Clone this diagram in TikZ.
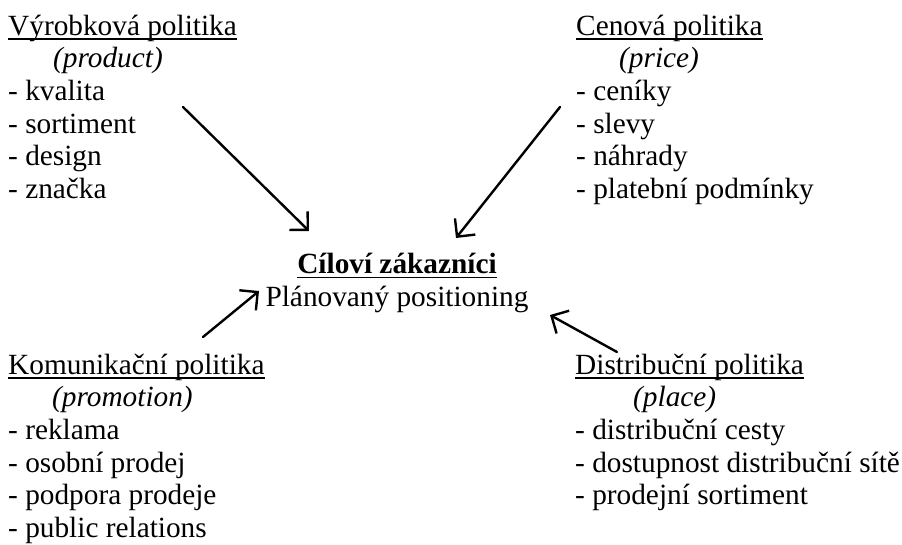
\documentclass[tikz,border=0pt]{standalone}
\usepackage{fontspec}
\setmainfont{Liberation Serif}
\usetikzlibrary{arrows.meta}
\newcommand\ulin[1]{\setbox0\hbox{#1}\rlap{\rule[-5pt]{\wd0}{1.8pt}}\box0}

\begin{document}
\begin{tikzpicture}[line cap=round,line join=round,x=1pt,y=-1pt,
  >={Straight Barb[length=13pt,width=26pt]},
  block/.style={anchor=base west,align=left,inner sep=0pt},
  arr/.style={->,line width=2.4pt}]
\useasboundingbox (0,0) rectangle (902,544);
\fontsize{29.3}{32.7}\selectfont
%\draw[help lines,step=50] (0,0) grid (902,544);
% base = baseline of the last line
\node[block] (prod) at (8,198.5) {\ulin{Výrobková politika}\\
  \hspace{45pt}\textit{(product)}\\
  - kvalita\\ - sortiment\\ - design\\ - značka};
\node[block] (price) at (576,198.5) {\ulin{Cenová politika}\\
  \hspace{43pt}\textit{(price)}\\
  - ceníky\\ - slevy\\ - náhrady\\ - platební podmínky};
\node[anchor=base,align=center,inner sep=0pt] (cil) at (397,306) {\ulin{\textbf{Cíloví zákazníci}}\\
  Plánovaný positioning};
\node[block] (prom) at (8,537.5) {\ulin{Komunikační politika}\\
  \hspace{44pt}\textit{(promotion)}\\
  - reklama\\ - osobní prodej\\ - podpora prodeje\\ - public relations};
\node[block] (place) at (575,504.8) {\ulin{Distribuční politika}\\
  \hspace{58pt}\textit{(place)}\\
  - distribuční cesty\\ - dostupnost distribuční sítě\\ - prodejní sortiment};
% arrows
\coordinate (a1) at (183,107);
\coordinate (b1) at (309,231);
\coordinate (a2) at (560,107);
\coordinate (b2) at (456,238);
\coordinate (a3) at (203,337);
\coordinate (b3) at (259,291);
\coordinate (a4) at (617,352);
\coordinate (b4) at (550,315);
\draw[arr] (a1)--(b1);
\draw[arr] (a2)--(b2);
\draw[arr] (a3)--(b3);
\draw[arr] (a4)--(b4);
\end{tikzpicture}
\end{document}
